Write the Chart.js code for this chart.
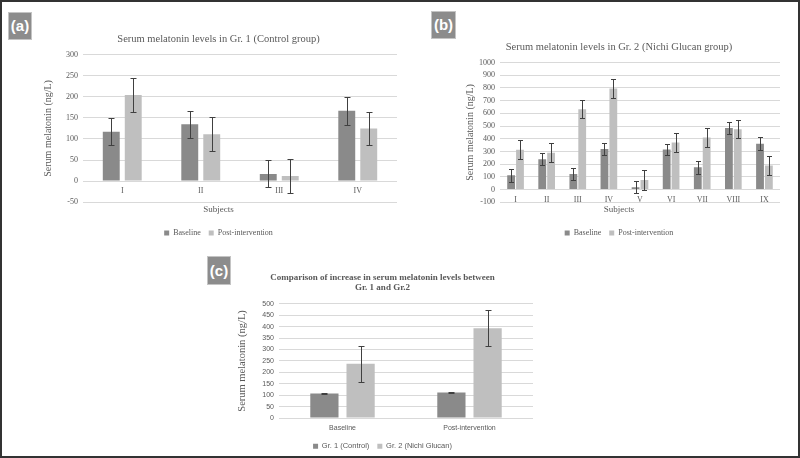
<!DOCTYPE html>
<html>
<head>
<meta charset="utf-8">
<script src="https://cdn.jsdelivr.net/npm/chart.js@4.4.0/dist/chart.umd.min.js"></script>
<style>
  body { margin: 0; background: #fff; }
  #fig { position: relative; width: 800px; height: 458px; background: #fff; overflow: hidden; }
  #frame { position: absolute; left: 0; top: 0; width: 800px; height: 458px; box-sizing: border-box; border: 2px solid #333; pointer-events: none; }
  .tag { position: absolute; background: #8c8c8c; color: #fff; font: bold 15px "Liberation Sans", Arial, sans-serif;
         text-align: center; border: 1px solid #c4c4c4; box-sizing: border-box; }
  canvas { position: absolute; }
</style>
</head>
<body>
<div id="fig">
  <canvas id="chartA" width="365" height="219" style="left:40px;top:28px;width:365px;height:219px"></canvas>
  <canvas id="chartB" width="330" height="211" style="left:458px;top:36px;width:330px;height:211px"></canvas>
  <canvas id="chartC" width="309" height="190" style="left:232px;top:270px;width:309px;height:190px"></canvas>
  <div class="tag" style="left:8px;top:12px;width:24px;height:28px;line-height:26px">(a)</div>
  <div class="tag" style="left:431px;top:11px;width:25px;height:28px;line-height:26px">(b)</div>
  <div class="tag" style="left:207px;top:256px;width:24px;height:29px;line-height:27px">(c)</div>
  <div id="frame"></div>
</div>
<script>
// panel (a) - control group
var subjectsA = ['I', 'II', 'III', 'IV'];
var baselineA = [117, 135, 17, 167];
var postA = [204, 111, 12, 125];
var baselineErrA = [32, 32, 32, 33];
var postErrA = [40, 40, 40, 40];

// panel (b) - Nichi Glucan group
var subjectsB = ['I', 'II', 'III', 'IV', 'V', 'VI', 'VII', 'VIII', 'IX'];
var baselineB = [112, 238, 122, 320, 18, 315, 175, 485, 360];
var postB = [313, 290, 633, 795, 75, 370, 410, 475, 190];
var baselineErrB = [50, 48, 50, 48, 48, 45, 50, 45, 50];
var postErrB = [75, 75, 72, 73, 75, 75, 72, 70, 72];

// panel (c) - group comparison
var phasesC = ['Baseline', 'Post-intervention'];
var group1C = [108, 112];
var group2C = [238, 393];
var group1ErrC = [3, 3];
var group2ErrC = [79, 79];

var DARK = '#8a8a8a';
var LIGHT = '#bfbfbf';
var TEXT = '#595959';
var GRID = '#d9d9d9';
var SERIF = '"Liberation Serif", "Times New Roman", serif';
var SANS = '"Liberation Sans", Arial, sans-serif';

function serif(size, weight) {
    return { family: SERIF, size: size, weight: weight || 'normal' };
}
function sans(size) {
    return { family: SANS, size: size, weight: 'normal' };
}
function plainNumber(v) {
    return String(v);
}

// draws +/- error whiskers for each bar using the y scale
var errorBarPlugin = {
    id: 'errorBars',
    afterDatasetsDraw: function (chart, args, opts) {
        var ctx = chart.ctx;
        var yScale = chart.scales.y;
        ctx.save();
        ctx.strokeStyle = '#404040';
        ctx.lineWidth = 1;
        chart.data.datasets.forEach(function (ds, i) {
            var meta = chart.getDatasetMeta(i);
            if (!ds.errors || meta.hidden) return;
            meta.data.forEach(function (bar, j) {
                var v = ds.data[j], e = ds.errors[j];
                var x = Math.round(bar.x) + 0.5;
                var yTop = Math.round(yScale.getPixelForValue(v + e)) + 0.5;
                var yBot = Math.round(yScale.getPixelForValue(v - e)) + 0.5;
                var w = opts.cap || 3;
                ctx.beginPath();
                ctx.moveTo(x, yTop); ctx.lineTo(x, yBot);
                ctx.moveTo(x - w, yTop); ctx.lineTo(x + w, yTop);
                ctx.moveTo(x - w, yBot); ctx.lineTo(x + w, yBot);
                ctx.stroke();
            });
        });
        ctx.restore();
    }
};

function subjectChart(id, labels, base, post, baseErr, postErr, cfg) {
    return new Chart(document.getElementById(id), {
        type: 'bar',
        data: {
            labels: labels,
            datasets: [
                { label: 'Baseline', data: base, errors: baseErr, backgroundColor: DARK, borderWidth: 0 },
                { label: 'Post-intervention', data: post, errors: postErr, backgroundColor: LIGHT, borderWidth: 0 }
            ]
        },
        options: {
            responsive: false,
            animation: false,
            datasets: { bar: { categoryPercentage: cfg.catPct, barPercentage: cfg.barPct } },
            layout: { padding: { left: 0, right: 8, top: 0, bottom: 0 } },
            scales: {
                x: {
                    position: { y: 0 },
                    grid: { display: false, drawTicks: false },
                    border: { display: false },
                    ticks: { font: serif(8), color: TEXT, padding: cfg.xPad, maxRotation: 0 }
                },
                y: {
                    min: cfg.min,
                    max: cfg.max,
                    ticks: { stepSize: cfg.step, font: serif(8), color: TEXT, padding: 5, autoSkip: false, callback: plainNumber },
                    grid: { color: GRID, drawTicks: false },
                    border: { display: false },
                    title: { display: true, text: 'Serum melatonin (ng/L)', font: serif(10), color: TEXT, padding: { top: cfg.yTitlePad, bottom: 0 } },
                    afterFit: function (s) { s.width = cfg.yWidth; }
                }
            },
            plugins: {
                title: { display: true, text: cfg.title, font: serif(10.5), color: TEXT, padding: { top: 5, bottom: 9 } },
                subtitle: { display: true, position: 'bottom', weight: 500, text: 'Subjects', font: serif(9), color: TEXT, padding: { top: 2, bottom: 6 } },
                legend: { position: 'bottom', labels: { boxWidth: 5, boxHeight: 5, font: serif(8), color: TEXT, padding: 8 } },
                tooltip: { enabled: false },
                errorBars: { cap: cfg.cap }
            }
        },
        plugins: [errorBarPlugin]
    });
}

subjectChart('chartA', subjectsA, baselineA, postA, baselineErrA, postErrA, {
    title: 'Serum melatonin levels in Gr. 1 (Control group)',
    min: -50, max: 300, step: 50, yWidth: 43, yTitlePad: 2, xPad: 5, cap: 3,
    catPct: 0.56, barPct: 0.77
});

subjectChart('chartB', subjectsB, baselineB, postB, baselineErrB, postErrB, {
    title: 'Serum melatonin levels in Gr. 2 (Nichi Glucan group)',
    min: -100, max: 1000, step: 100, yWidth: 42, yTitlePad: 6, xPad: 6, cap: 2.5,
    catPct: 0.57, barPct: 0.88
});

new Chart(document.getElementById('chartC'), {
    type: 'bar',
    data: {
        labels: phasesC,
        datasets: [
            { label: 'Gr. 1 (Control)', data: group1C, errors: group1ErrC, backgroundColor: DARK, borderWidth: 0 },
            { label: 'Gr. 2 (Nichi Glucan)', data: group2C, errors: group2ErrC, backgroundColor: LIGHT, borderWidth: 0 }
        ]
    },
    options: {
        responsive: false,
        animation: false,
        datasets: { bar: { categoryPercentage: 0.57, barPercentage: 0.78 } },
        layout: { padding: { left: 0, right: 8, top: 0, bottom: 0 } },
        scales: {
            x: {
                grid: { display: false, drawTicks: false },
                border: { display: false },
                ticks: { font: sans(7), color: TEXT, padding: 6, maxRotation: 0 },
                afterFit: function (s) { s.height = 16.4; }
            },
            y: {
                min: 0,
                max: 500,
                ticks: { stepSize: 50, font: sans(7), color: TEXT, padding: 5, autoSkip: false },
                grid: { color: GRID, drawTicks: false },
                border: { display: false },
                title: { display: true, text: 'Serum melatonin (ng/L)', font: serif(10.5), color: TEXT, padding: { top: 4, bottom: 0 } },
                afterFit: function (s) { s.width = 47; }
            }
        },
        plugins: {
            title: {
                display: true,
                text: ['Comparison of increase in serum melatonin levels between', 'Gr. 1 and Gr.2'],
                font: { family: SERIF, size: 9, weight: 'bold', lineHeight: 1.1 },
                color: TEXT,
                padding: { top: 3, bottom: 11 }
            },
            legend: { position: 'bottom', labels: { boxWidth: 5, boxHeight: 5, font: sans(7.5), color: TEXT, padding: 8 } },
            tooltip: { enabled: false },
            errorBars: { cap: 3 }
        }
    },
    plugins: [errorBarPlugin]
});
</script>
</body>
</html>
